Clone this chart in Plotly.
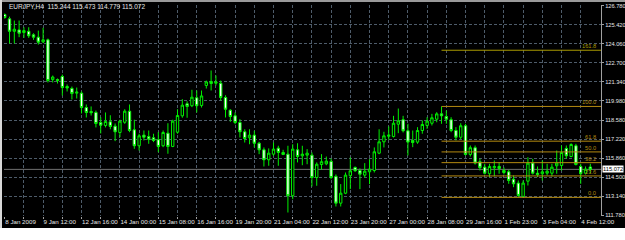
import plotly.graph_objects as go

# ---------------- data ----------------
symbol = "EURJPY,H4"

opens = [126.14, 125.83, 124.94, 125.04, 124.85, 124.94, 124.69, 124.52, 124.19, 124.33,
         121.49, 121.49, 121.71, 120.99, 120.85, 120.52, 120.52, 119.49, 119.21, 119.14,
         118.42, 118.21, 118.47, 118.16, 117.71, 118.44, 119.23, 117.90, 116.76, 117.52,
         117.42, 117.33, 117.19, 116.76, 117.66, 116.71, 117.73, 118.90, 119.76, 119.62,
         120.19, 119.64, 121.07, 121.35, 121.23, 121.23, 120.21, 119.30, 118.90, 118.42,
         117.76, 117.33, 117.52, 116.94, 116.47, 115.76, 116.16, 116.59, 116.28, 116.16,
         113.19, 116.47, 116.04, 116.09, 116.09, 114.49, 115.42, 115.47, 115.64, 114.57,
         112.66, 113.37, 114.62, 115.21, 114.99, 114.66, 114.90, 114.99, 116.23, 117.04,
         117.44, 117.42, 118.30, 118.62, 117.83, 117.14, 117.02, 117.85, 118.21, 118.37,
         118.66, 119.04, 118.85, 118.62, 117.85, 117.37, 118.19, 116.14, 116.62, 115.62,
         115.23, 114.76, 115.19, 115.28, 114.99, 114.90, 114.37, 114.09, 113.14, 114.23,
         115.52, 114.80, 114.76, 114.80, 114.80, 115.33, 115.35, 116.57, 115.99, 116.76,
         115.28, 114.80, 115.244]

highs = [126.21, 125.99, 125.71, 125.71, 125.23, 125.23, 124.80, 124.99, 125.19, 124.42,
         121.78, 121.57, 121.85, 121.14, 120.99, 120.92, 120.64, 119.71, 119.57, 119.28,
         118.80, 119.14, 118.94, 118.35, 118.62, 119.37, 119.71, 118.62, 117.62, 117.85,
         117.85, 117.62, 117.73, 117.85, 118.37, 118.62, 119.37, 120.09, 119.94, 120.76,
         120.71, 120.71, 121.42, 122.14, 121.78, 121.42, 120.37, 119.37, 119.14, 118.66,
         117.94, 117.94, 117.83, 117.04, 116.64, 116.57, 116.99, 116.76, 116.47, 116.76,
         116.87, 116.94, 116.76, 116.52, 116.28, 115.57, 116.16, 115.99, 115.85, 114.71,
         114.02, 114.85, 115.92, 115.28, 115.14, 115.52, 115.80, 116.64, 117.94, 117.76,
         118.14, 118.90, 119.42, 118.90, 118.33, 117.85, 118.09, 118.57, 118.80, 119.04,
         119.16, 119.57, 119.28, 118.80, 118.09, 118.37, 118.33, 116.78, 116.78, 115.83,
         115.47, 115.47, 115.71, 115.59, 115.21, 115.04, 114.64, 114.28, 114.28, 115.94,
         115.83, 115.28, 115.71, 115.47, 115.47, 116.42, 116.78, 116.78, 116.94, 116.90,
         115.47, 115.28, 115.473]

lows = [125.85, 124.07, 124.07, 124.52, 124.47, 124.47, 124.33, 123.99, 124.09, 121.28,
        121.28, 121.21, 120.35, 120.64, 120.07, 120.14, 119.07, 118.78, 118.92, 118.07,
        117.64, 118.07, 117.94, 117.09, 117.37, 118.33, 117.73, 116.54, 116.42, 117.14,
        116.90, 117.02, 116.30, 116.66, 116.19, 116.66, 117.62, 118.76, 118.76, 119.52,
        119.14, 119.49, 120.85, 120.71, 121.07, 119.99, 118.78, 118.47, 118.30, 117.35,
        116.99, 116.87, 116.64, 116.16, 115.28, 115.33, 116.04, 115.33, 116.09, 111.99,
        112.94, 115.57, 115.37, 115.44, 113.85, 113.90, 115.04, 115.37, 114.37, 112.42,
        112.42, 113.30, 113.66, 114.90, 113.66, 114.49, 114.02, 114.85, 116.16, 116.64,
        117.19, 117.35, 117.66, 117.71, 116.07, 116.66, 116.90, 117.62, 117.97, 118.21,
        118.44, 118.33, 118.33, 117.73, 117.14, 117.23, 116.07, 115.99, 115.42, 114.99,
        114.71, 114.52, 114.57, 114.76, 114.71, 114.04, 113.80, 113.09, 113.07, 113.92,
        114.71, 114.52, 114.28, 114.64, 114.57, 114.76, 114.99, 115.83, 115.94, 115.35,
        114.04, 114.71, 114.779]

closes = [125.92, 124.94, 125.09, 124.80, 124.99, 124.62, 124.52, 124.16, 124.33, 121.42,
          121.67, 121.42, 120.92, 120.89, 120.49, 120.59, 119.49, 119.14, 119.12, 118.35,
          118.23, 118.49, 118.14, 117.76, 118.52, 119.23, 117.85, 116.76, 117.47, 117.37,
          117.23, 117.14, 116.71, 117.71, 116.71, 118.52, 118.92, 119.66, 119.57, 120.23,
          119.62, 120.32, 121.32, 121.21, 121.32, 120.21, 119.37, 118.85, 118.42, 117.76,
          117.28, 117.52, 116.94, 116.47, 115.76, 116.23, 116.52, 116.28, 116.14, 113.19,
          116.52, 115.99, 116.16, 116.23, 114.49, 115.44, 115.62, 115.66, 114.49, 112.66,
          113.37, 114.66, 114.97, 114.97, 114.73, 114.94, 115.09, 116.33, 117.04, 117.47,
          117.52, 118.37, 118.54, 117.83, 117.02, 116.99, 117.85, 118.28, 118.52, 118.76,
          119.04, 118.90, 118.66, 117.85, 117.37, 118.19, 116.14, 116.62, 115.52, 115.19,
          114.80, 115.28, 115.28, 115.14, 114.85, 114.28, 114.04, 113.21, 114.09, 115.52,
          114.80, 114.71, 114.90, 114.94, 115.23, 115.52, 116.28, 116.04, 116.85, 115.42,
          114.76, 115.09, 115.072]

bars = list(range(len(opens)))

time_label_bars = [0, 8, 16, 24, 32, 40, 48, 56, 64, 72, 80, 88, 96, 104, 112, 120]
time_labels = ["8 Jan 2009", "9 Jan 12:00", "12 Jan 16:00", "14 Jan 00:00", "15 Jan 08:00",
               "16 Jan 16:00", "19 Jan 20:00", "21 Jan 04:00", "22 Jan 12:00", "23 Jan 20:00",
               "27 Jan 00:00", "28 Jan 08:00", "29 Jan 16:00", "1 Feb 23:00", "3 Feb 04:00",
               "4 Feb 12:00"]
grid_step_bars = 4

price_ticks = [126.780, 125.420, 124.060, 122.700, 121.340, 119.980, 118.580,
               117.220, 115.860, 114.500, 113.140, 111.780]

fib_ratios = [0.0, 23.6, 38.2, 50.0, 61.8, 100.0, 161.8]
fib_low = 113.07
fib_high = 119.57
fib_start_bar = 91

# ---------------- layout constants ----------------
W, H = 625, 240
ML, MR, MT, MB = 4, 24, 5, 24
PW, PH = W - ML - MR, H - MT - MB
BAR_PX = 4.8
x0 = -0.15
x1 = x0 + PW / BAR_PX
y_lo, y_hi = 111.74, 126.82

FONT = "Liberation Sans"
FS = 5.7
GRID = "#4e5c6a"
TXT = "#e6e6e6"
GREEN = "#00f000"
FIBC = "#b48a10"


def px_x(p):
    return (p - ML) / PW


def px_y(p):
    return (H - MB - p) / PH


fig = go.Figure()

fig.add_trace(go.Candlestick(
    x=bars, open=opens, high=highs, low=lows, close=closes,
    increasing=dict(line=dict(color=GREEN, width=1), fillcolor="#000000"),
    decreasing=dict(line=dict(color=GREEN, width=1), fillcolor="#ffffff"),
    whiskerwidth=0, showlegend=False, hoverinfo="skip",
))

shapes = []
# bid line
last_close = closes[-1]
shapes.append(dict(type="line", xref="paper", yref="y", x0=0, x1=1, y0=last_close, y1=last_close,
                   line=dict(color="#707070", width=1), layer="below"))
# fibonacci levels
annotations = []
for r in fib_ratios:
    lvl = fib_low + (fib_high - fib_low) * r / 100.0
    col = "#a89a00" if r > 100 else FIBC
    shapes.append(dict(type="line", xref="x", yref="y", x0=fib_start_bar, x1=x1, y0=lvl, y1=lvl,
                       line=dict(color=col, width=1), layer="above"))
    annotations.append(dict(xref="paper", yref="y", x=px_x(598), y=lvl, text=f"{r:.1f}",
                            showarrow=False, xanchor="right", yanchor="bottom",
                            font=dict(family=FONT, size=FS, color=col), yshift=-1))

# window frame strips
shapes.append(dict(type="rect", xref="paper", yref="paper", x0=px_x(-2), x1=px_x(W + 2),
                   y0=px_y(H + 2), y1=px_y(228), fillcolor="#ffffff", line=dict(width=0), layer="above"))
shapes.append(dict(type="rect", xref="paper", yref="paper", x0=px_x(-2), x1=px_x(2),
                   y0=px_y(228), y1=px_y(-2), fillcolor="#d8d8d8", line=dict(width=0), layer="above"))
shapes.append(dict(type="rect", xref="paper", yref="paper", x0=px_x(2), x1=px_x(W + 2),
                   y0=px_y(2), y1=px_y(-2), fillcolor="#9a9a9a", line=dict(width=0), layer="above"))

# symbol / OHLC header
annotations.append(dict(xref="paper", yref="paper", x=px_x(7), y=px_y(7),
                        text=f"{symbol}  {opens[-1]:.3f} {highs[-1]:.3f} {lows[-1]:.3f} {closes[-1]:.3f}",
                        showarrow=False, xanchor="left", yanchor="middle",
                        font=dict(family=FONT, size=6.5, color=TXT)))
# current price box
annotations.append(dict(xref="paper", yref="y", x=1, y=last_close, text=f"{last_close:.3f}",
                        showarrow=False, xanchor="left", yanchor="middle", xshift=1,
                        bgcolor="#ffffff", borderpad=0,
                        font=dict(family=FONT, size=FS, color="#000000")))

grid_vals = list(range(0, len(bars), grid_step_bars))
grid_text = [time_labels[time_label_bars.index(v)] if v in time_label_bars else "" for v in grid_vals]

fig.update_layout(
    width=W, height=H, margin=dict(l=ML, r=MR, t=MT, b=MB, autoexpand=False),
    paper_bgcolor="#000000", plot_bgcolor="#000000",
    font=dict(family=FONT, size=FS, color=TXT),
    shapes=shapes, annotations=annotations, showlegend=False,
    xaxis=dict(range=[x0, x1], rangeslider=dict(visible=False), tickmode="array",
               tickvals=grid_vals, ticktext=grid_text, ticklabelposition="outside right",
               tickangle=0, automargin=False,
               ticks="outside", ticklen=2, tickcolor="#a0a0a0",
               showgrid=True, gridcolor=GRID, griddash="3px,2px", gridwidth=1,
               zeroline=False, showline=False, tickfont=dict(family=FONT, size=6.2, color=TXT)),
    yaxis=dict(range=[y_lo, y_hi], side="right", tickmode="array", tickvals=price_ticks,
               ticktext=[f"{v:.3f}" for v in price_ticks], ticks="outside", ticklen=2,
               automargin=False,
               tickcolor="#a0a0a0", showline=True, linecolor="#a0a0a0", linewidth=1,
               showgrid=True, gridcolor=GRID, griddash="3px,2px", gridwidth=1,
               zeroline=False, tickfont=dict(family=FONT, size=FS, color=TXT)),
)

fig.write_html("out.html")
